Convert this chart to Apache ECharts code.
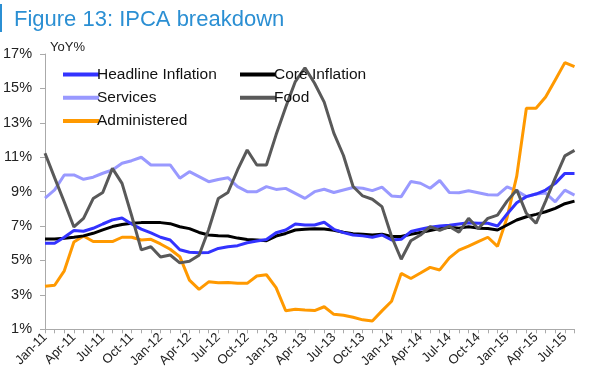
<!DOCTYPE html>
<html>
<head>
<meta charset="utf-8">
<script src="https://cdn.jsdelivr.net/npm/echarts@6/dist/echarts.min.js"></script>
<style>
html,body{margin:0;padding:0;background:#fff;}
#chart{width:601px;height:387px;}
</style>
</head>
<body>
<div id="chart"></div>
<script>
var categories = ['Jan-11','Feb-11','Mar-11','Apr-11','May-11','Jun-11','Jul-11','Aug-11','Sep-11','Oct-11','Nov-11','Dec-11',
'Jan-12','Feb-12','Mar-12','Apr-12','May-12','Jun-12','Jul-12','Aug-12','Sep-12','Oct-12','Nov-12','Dec-12',
'Jan-13','Feb-13','Mar-13','Apr-13','May-13','Jun-13','Jul-13','Aug-13','Sep-13','Oct-13','Nov-13','Dec-13',
'Jan-14','Feb-14','Mar-14','Apr-14','May-14','Jun-14','Jul-14','Aug-14','Sep-14','Oct-14','Nov-14','Dec-14',
'Jan-15','Feb-15','Mar-15','Apr-15','May-15','Jun-15','Jul-15','Aug-15'];

var headline = [6.0,6.0,6.35,6.74,6.7,6.87,7.12,7.36,7.47,7.12,6.82,6.6,6.35,6.19,5.62,5.48,5.45,5.47,5.7,5.8,5.86,6.03,6.13,6.22,6.61,6.77,7.12,7.06,7.06,7.22,6.81,6.62,6.48,6.43,6.35,6.48,6.19,6.23,6.68,6.81,6.93,7.0,7.05,7.12,7.19,7.16,7.16,7.0,7.7,8.36,8.71,8.86,9.09,9.48,10.06,10.06];
var core = [6.25,6.25,6.29,6.35,6.43,6.58,6.78,6.97,7.09,7.16,7.2,7.2,7.2,7.14,6.96,6.85,6.63,6.48,6.44,6.42,6.3,6.22,6.19,6.15,6.42,6.57,6.77,6.81,6.84,6.83,6.76,6.64,6.56,6.52,6.48,6.52,6.39,6.39,6.52,6.62,6.74,6.85,6.93,6.88,6.96,6.88,6.86,6.77,7.06,7.35,7.54,7.68,7.83,8.03,8.3,8.45];
var services = [8.62,9.1,9.97,9.97,9.72,9.84,10.07,10.26,10.65,10.8,11.0,10.55,10.55,10.55,9.78,10.16,9.87,9.58,9.71,9.81,9.29,9.0,9.0,9.29,9.13,9.19,8.9,8.61,9.0,9.14,8.95,9.1,9.24,9.2,9.06,9.26,8.75,8.71,9.59,9.49,9.2,9.65,8.95,8.94,9.05,8.94,8.82,8.8,9.28,9.05,8.71,8.86,8.92,8.41,9.09,8.8];
var food = [11.23,9.8,8.4,6.95,7.45,8.6,8.95,10.35,9.48,7.6,5.62,5.8,5.2,5.32,4.86,4.95,5.3,6.8,8.6,8.95,10.26,11.42,10.55,10.55,12.3,13.9,15.4,16.2,15.3,14.2,12.4,11.1,9.3,8.75,8.56,8.13,6.39,5.07,6.15,6.48,6.97,6.75,6.98,6.64,7.45,6.84,7.45,7.64,8.45,9.1,7.74,7.16,8.45,9.8,11.08,11.4];
var administered = [3.5,3.56,4.4,6.07,6.42,6.1,6.1,6.1,6.35,6.35,6.19,6.23,5.96,5.65,5.22,3.86,3.32,3.76,3.71,3.72,3.67,3.67,4.1,4.17,3.42,2.08,2.16,2.12,2.09,2.31,1.87,1.82,1.7,1.55,1.48,2.07,2.63,4.25,3.95,4.27,4.6,4.45,5.15,5.6,5.84,6.1,6.35,5.82,7.5,9.9,13.85,13.85,14.5,15.49,16.5,16.26];

var yTicks = {min: 1, max: 17, interval: 2};

var FONT = "'Liberation Sans', Arial, Helvetica, sans-serif";
var chart = echarts.init(document.getElementById('chart'), null, {renderer: 'canvas'});

function mk(name, data, color) {
  return {
    name: name, type: 'line', data: data, symbol: 'none', smooth: false,
    lineStyle: {color: color, width: 3}, itemStyle: {color: color}
  };
}

var legendCommon = {
  orient: 'vertical', icon: 'rect', itemWidth: 36, itemHeight: 4, itemGap: 6.3,
  textStyle: {fontFamily: FONT, fontSize: 15.5, color: '#111', lineHeight: 17, padding: [0,0,0,-7]}
};

chart.setOption({
  backgroundColor: '#fff',
  animation: false,
  title: {
    text: 'Figure 13: IPCA breakdown', left: 9, top: 4,
    textStyle: {fontFamily: FONT, fontSize: 22, fontWeight: 'normal', color: '#2b8fd3'}
  },
  graphic: [{type: 'rect', left: 0, top: 4, shape: {width: 2, height: 28}, style: {fill: '#2b8fd3'}}],
  legend: [
    Object.assign({left: 58, top: 61, data: ['Headline Inflation', 'Services', 'Administered']}, legendCommon),
    Object.assign({left: 235, top: 61, data: ['Core Inflation', 'Food']}, legendCommon)
  ],
  grid: {left: 45, right: 26.5, top: 54, bottom: 57.7, containLabel: false},
  xAxis: {
    type: 'category', data: categories, boundaryGap: false,
    axisLine: {lineStyle: {color: '#aaa', width: 1}},
    axisTick: {interval: 0, length: 4, lineStyle: {color: '#aaa'}},
    axisLabel: {interval: 2, rotate: 45, margin: 6, fontFamily: FONT, fontSize: 13, color: '#222'},
    splitLine: {show: false}
  },
  yAxis: {
    type: 'value', min: yTicks.min, max: yTicks.max, interval: yTicks.interval,
    name: 'YoY%', nameLocation: 'end', nameGap: 0,
    nameTextStyle: {fontFamily: FONT, fontSize: 13, color: '#222', align: 'left', verticalAlign: 'bottom', padding: [0,0,0,5]},
    axisLine: {show: true, lineStyle: {color: '#aaa', width: 1}},
    axisTick: {show: true, length: 5, lineStyle: {color: '#aaa'}},
    axisLabel: {formatter: '{value}%', margin: 13, fontFamily: FONT, fontSize: 14.5, color: '#222'},
    splitLine: {show: false}
  },
  series: [
    mk('Services', services, '#9999ff'),
    mk('Administered', administered, '#ff9900'),
    mk('Core Inflation', core, '#000000'),
    mk('Headline Inflation', headline, '#3333ff'),
    mk('Food', food, '#595959')
  ]
});
</script>
</body>
</html>
